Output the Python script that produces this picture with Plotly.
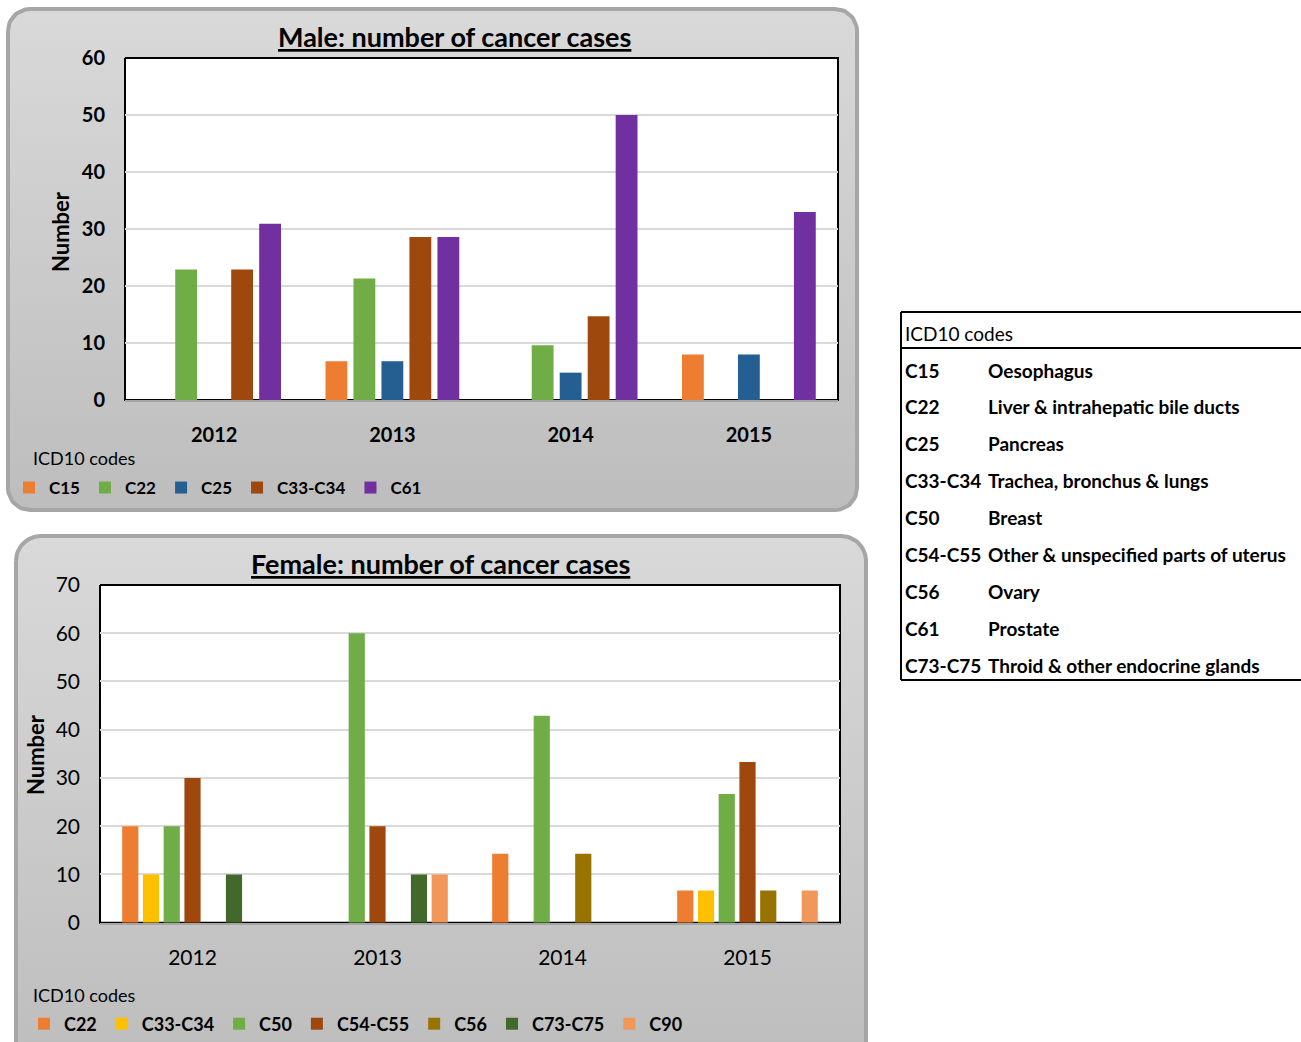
import numpy as np
import plotly.graph_objects as go

W, H = 1301, 1042

years = ["2012", "2013", "2014", "2015"]

# Male chart
male_codes = ["C15", "C22", "C25", "C33-C34", "C61"]
male_colors = ["#ED7D31", "#70AD47", "#255E91", "#9E480E", "#7030A0"]
male_c15 = [0, 6.8, 0, 8.0]
male_c22 = [22.9, 21.3, 9.6, 0]
male_c25 = [0, 6.8, 4.8, 8.0]
male_c33_c34 = [22.9, 28.6, 14.7, 0]
male_c61 = [30.9, 28.6, 50.0, 33.0]
male_values = [male_c15, male_c22, male_c25, male_c33_c34, male_c61]

# Female chart
female_codes = ["C22", "C33-C34", "C50", "C54-C55", "C56", "C73-C75", "C90"]
female_colors = ["#ED7D31", "#FFC000", "#70AD47", "#9E480E", "#997300", "#43682B", "#F1975A"]
female_c22 = [20, 0, 14.3, 6.7]
female_c33_c34 = [10, 0, 0, 6.7]
female_c50 = [20, 60, 42.9, 26.7]
female_c54_c55 = [30, 20, 0, 33.3]
female_c56 = [0, 0, 14.3, 6.7]
female_c73_c75 = [10, 10, 0, 0]
female_c90 = [0, 10, 0, 6.7]
female_values = [female_c22, female_c33_c34, female_c50, female_c54_c55,
                 female_c56, female_c73_c75, female_c90]

# ICD10 lookup table
table_codes = ["C15", "C22", "C25", "C33-C34", "C50", "C54-C55", "C56", "C61", "C73-C75"]
table_sites = ["Oesophagus", "Liver & intrahepatic bile ducts", "Pancreas",
               "Trachea, bronchus & lungs", "Breast", "Other & unspecified parts of uterus",
               "Ovary", "Prostate", "Throid & other endocrine glands"]

FONT = "Lato, 'Open Sans', sans-serif"


def rounded_rect(x0, y0, x1, y1, r, n=14):
    """Closed outline of a rounded rectangle in pixel space (y down)."""
    xs, ys = [], []
    corners = [(x0 + r, y0 + r, np.pi, 1.5 * np.pi),
               (x1 - r, y0 + r, 1.5 * np.pi, 2 * np.pi),
               (x1 - r, y1 - r, 0, 0.5 * np.pi),
               (x0 + r, y1 - r, 0.5 * np.pi, np.pi)]
    for cx, cy, a0, a1 in corners:
        a = np.linspace(a0, a1, n)
        xs += list(cx + r * np.cos(a))
        ys += list(cy + r * np.sin(a))
    xs.append(xs[0]); ys.append(ys[0])
    return xs, [H - y for y in ys]


def box(x0, y0, x1, y1):
    return [x0, x1, x1, x0, x0], [H - y0, H - y0, H - y1, H - y1, H - y0]


fig = go.Figure()

# grey rounded panels with a soft vertical gradient
for (x0, y0, x1, y1, r) in [(8, 9, 857, 510, 22), (16, 536, 866, 1070, 25)]:
    px, py = rounded_rect(x0, y0, x1, y1, r)
    fig.add_trace(go.Scatter(
        x=px, y=py, mode="lines", fill="toself",
        fillgradient=dict(type="vertical", start=H - y1, stop=H - y0,
                          colorscale=[[0, "#bdbdbd"], [1, "#d9d9d9"]]),
        line=dict(color="#a6a6a6", width=4),
        hoverinfo="skip", showlegend=False, xaxis="x", yaxis="y"))

# white plot areas with black frame
MALE_BOX = (125, 58, 838, 400)
FEMALE_BOX = (100, 585, 840, 922.7)
for b in [MALE_BOX, FEMALE_BOX]:
    bx, by = box(*b)
    fig.add_trace(go.Scatter(
        x=bx, y=by, mode="lines", fill="toself", fillcolor="white",
        line=dict(color="black", width=2),
        hoverinfo="skip", showlegend=False, xaxis="x", yaxis="y"))

for code, vals, col in zip(male_codes, male_values, male_colors):
    fig.add_trace(go.Bar(x=years, y=vals, name=code, marker_color=col,
                         marker_line_width=0, xaxis="x2", yaxis="y2", legend="legend"))

for code, vals, col in zip(female_codes, female_values, female_colors):
    fig.add_trace(go.Bar(x=years, y=vals, name=code, marker_color=col,
                         marker_line_width=0, xaxis="x3", yaxis="y3", legend="legend2"))

grid = dict(showgrid=True, gridcolor="#d9d9d9", gridwidth=1.5, zeroline=False,
            ticks="", showline=False, fixedrange=True, ticklabelstandoff=19)
xax = dict(showgrid=False, zeroline=False, showline=True, linecolor="#a6a6a6",
           linewidth=2, ticks="", fixedrange=True)

fig.update_layout(
    width=W, height=H, margin=dict(l=0, r=0, t=0, b=0, autoexpand=False),
    paper_bgcolor="white", plot_bgcolor="rgba(0,0,0,0)",
    font=dict(family=FONT, color="black"),
    barmode="group", bargap=0.215, bargroupgap=0.22,
    xaxis=dict(domain=[0, 1], range=[0, W], visible=False, fixedrange=True),
    yaxis=dict(domain=[0, 1], range=[0, H], visible=False, fixedrange=True),
    xaxis2=dict(domain=[MALE_BOX[0] / W, MALE_BOX[2] / W], anchor="y2",
                tickfont=dict(size=20, weight="bold"), ticklabelstandoff=16, **xax),
    yaxis2=dict(domain=[1 - MALE_BOX[3] / H, 1 - MALE_BOX[1] / H], anchor="x2",
                range=[0, 60], dtick=10, tickfont=dict(size=20, weight="bold"), **grid),
    xaxis3=dict(domain=[FEMALE_BOX[0] / W, FEMALE_BOX[2] / W], anchor="y3",
                tickfont=dict(size=21), ticklabelstandoff=15, **xax),
    yaxis3=dict(domain=[1 - FEMALE_BOX[3] / H, 1 - FEMALE_BOX[1] / H], anchor="x3",
                range=[0, 70], dtick=10, tickfont=dict(size=21), **grid),
    legend=dict(orientation="h", x=9 / W, y=1 - 488 / H, xanchor="left", yanchor="middle",
                bgcolor="rgba(0,0,0,0)", font=dict(size=17, weight="bold"),
                tracegroupgap=0),
    legend2=dict(orientation="h", x=24 / W, y=1 - 1024 / H, xanchor="left", yanchor="middle",
                 bgcolor="rgba(0,0,0,0)", font=dict(size=18, weight="bold"),
                 tracegroupgap=0),
    hovermode=False,
)

ann = dict(xref="x", yref="y", showarrow=False)
fig.add_annotation(x=454, y=H - 36, text="<u>Male: number of cancer cases</u>",
                   font=dict(size=27, weight="bold"), **ann)
fig.add_annotation(x=440, y=H - 563, text="<u>Female: number of cancer cases</u>",
                   font=dict(size=27, weight="bold"), **ann)
fig.add_annotation(x=60, y=H - 232, text="Number", textangle=-90,
                   font=dict(size=22, weight="bold"), **ann)
fig.add_annotation(x=35, y=H - 755, text="Number", textangle=-90,
                   font=dict(size=22, weight="bold"), **ann)

# legend headings
fig.add_annotation(x=31, y=H - 458, text="ICD10 codes", xanchor="left",
                   font=dict(size=18), **ann)
fig.add_annotation(x=31, y=H - 995, text="ICD10 codes", xanchor="left",
                   font=dict(size=18), **ann)

# ICD10 table on the right
T_LEFT, T_TOP, T_BOTTOM, T_HEAD = 901, 312, 680, 348
line = dict(color="black", width=2)
for x0, y0, x1, y1 in [(T_LEFT, T_TOP, W + 5, T_TOP), (T_LEFT, T_HEAD, W + 5, T_HEAD),
                       (T_LEFT, T_BOTTOM, W + 5, T_BOTTOM), (T_LEFT, T_TOP, T_LEFT, T_BOTTOM)]:
    fig.add_shape(type="line", xref="x", yref="y", x0=x0, x1=x1, y0=H - y0, y1=H - y1, line=line)

fig.add_annotation(x=903, y=H - 333, text="ICD10 codes", xanchor="left",
                   font=dict(size=19), **ann)
row_y = 370
for code, site in zip(table_codes, table_sites):
    fig.add_annotation(x=903, y=H - row_y, text=code, xanchor="left",
                       font=dict(size=19, weight="bold"), **ann)
    fig.add_annotation(x=986, y=H - row_y, text=site, xanchor="left",
                       font=dict(size=19, weight="bold"), **ann)
    row_y += 36.9

fig.write_html("out.html", config={"displayModeBar": False},
               post_script="document.body.style.margin='0';")
